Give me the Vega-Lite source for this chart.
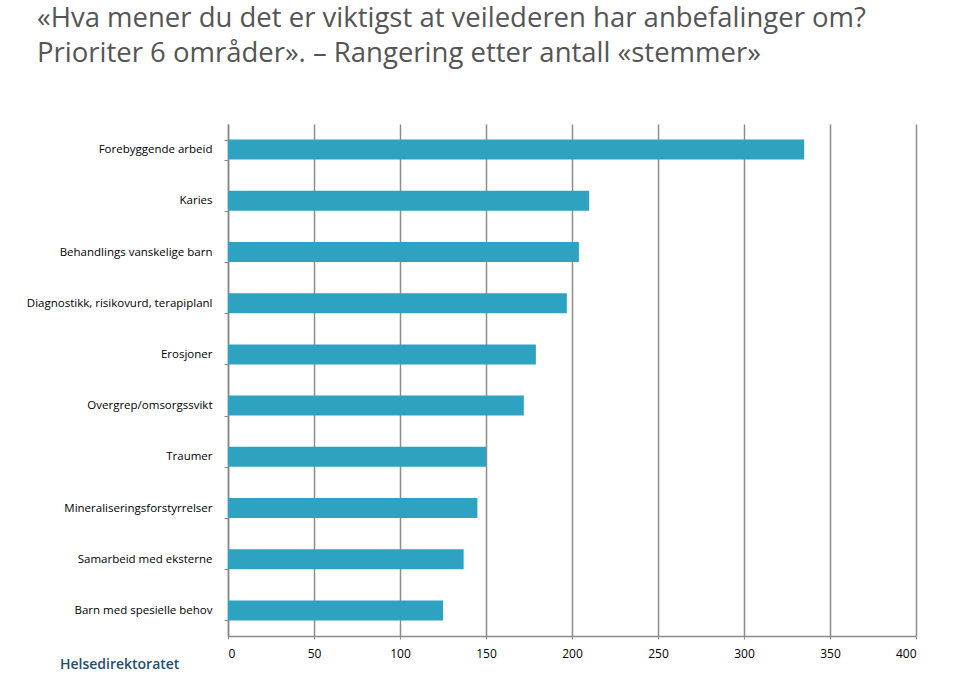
{
  "$schema": "https://vega.github.io/schema/vega-lite/v6.json",
  "autosize": {"type": "none"},
  "width": 688,
  "height": 512,
  "padding": {"left": 228, "top": 124, "right": 44, "bottom": 40},
  "background": "white",
  "title": {
    "text": ["«Hva mener du det er viktigst at veilederen har anbefalinger om?", "Prioriter 6 områder». – Rangering etter antall «stemmer»"],
    "anchor": "start",
    "frame": "group",
    "dx": -191,
    "offset": 51,
    "font": "Open Sans",
    "fontSize": 27.5,
    "fontWeight": "normal",
    "color": "#555555",
    "lineHeight": 35
  },
  "data": {
    "values": [
      {"omrade": "Forebyggende arbeid", "stemmer": 335},
      {"omrade": "Karies", "stemmer": 210},
      {"omrade": "Behandlings vanskelige barn", "stemmer": 204},
      {"omrade": "Diagnostikk, risikovurd, terapiplanl", "stemmer": 197},
      {"omrade": "Erosjoner", "stemmer": 179},
      {"omrade": "Overgrep/omsorgssvikt", "stemmer": 172},
      {"omrade": "Traumer", "stemmer": 150},
      {"omrade": "Mineraliseringsforstyrrelser", "stemmer": 145},
      {"omrade": "Samarbeid med eksterne", "stemmer": 137},
      {"omrade": "Barn med spesielle behov", "stemmer": 125}
    ]
  },
  "layer": [
    {
      "mark": {"type": "bar", "color": "#2EA3C1"},
      "encoding": {
        "y": {
          "field": "omrade",
          "type": "nominal",
          "sort": null,
          "scale": {
            "domain": ["Forebyggende arbeid", "Karies", "Behandlings vanskelige barn", "Diagnostikk, risikovurd, terapiplanl", "Erosjoner", "Overgrep/omsorgssvikt", "Traumer", "Mineraliseringsforstyrrelser", "Samarbeid med eksterne", "Barn med spesielle behov"],
            "paddingInner": 0.61,
            "paddingOuter": 0.305
          },
          "axis": {
            "title": null,
            "tickBand": "extent",
            "tickSize": 4,
            "tickColor": "#888888",
            "domainColor": "#888888",
            "domainWidth": 1.5,
            "labelPadding": 12,
            "labelFont": "Open Sans",
            "labelFontSize": 11.5,
            "labelColor": "#000000",
            "labelLimit": 230
          }
        },
        "x": {
          "field": "stemmer",
          "type": "quantitative",
          "scale": {"domain": [0, 400], "nice": false},
          "axis": {
            "title": null,
            "values": [0, 50, 100, 150, 200, 250, 300, 350, 400],
            "grid": true,
            "gridColor": "#8c8c8c",
            "gridWidth": 1.5,
            "domainColor": "#8c8c8c",
            "domainWidth": 1.5,
            "tickColor": "#8c8c8c",
            "tickSize": 3,
            "labelPadding": 9,
            "labelFont": "Open Sans",
            "labelFontSize": 12,
            "labelColor": "#000000"
          }
        }
      }
    },
    {
      "data": {"values": [{"label": "Helsedirektoratet", "x": -63, "cat": "Barn med spesielle behov"}]},
      "mark": {"type": "text", "font": "Open Sans", "fontSize": 14, "fontWeight": 600, "color": "#1f4e6e", "dy": 55, "align": "center", "clip": false},
      "encoding": {
        "text": {"field": "label"},
        "x": {"field": "x", "type": "quantitative"},
        "y": {"field": "cat", "type": "nominal"}
      }
    }
  ],
  "config": {"view": {"stroke": null}}
}
